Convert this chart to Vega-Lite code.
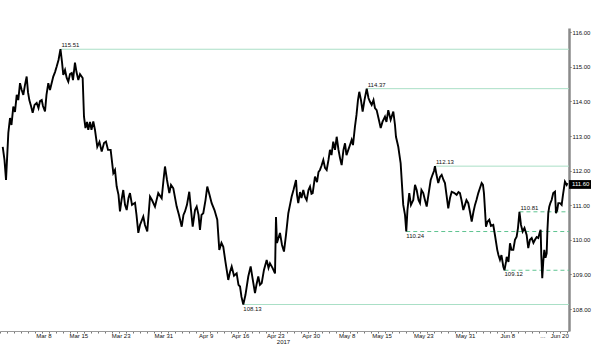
{
  "$schema": "https://vega.github.io/schema/vega-lite/v6.json",
  "width": 569,
  "height": 303,
  "autosize": {"type": "none"},
  "padding": {"left": 0, "top": 28, "right": 31, "bottom": 23},
  "background": "white",
  "config": {
    "view": {"stroke": null},
    "axis": {"labelFont": "Liberation Sans", "labelFontSize": 6, "labelColor": "#111", "titleFont": "Liberation Sans", "grid": false, "labelOverlap": false}
  },
  "datasets": {
    "series": [
      {"day":0.39,"price":112.69},{"day":0.64,"price":112.31},{"day":0.86,"price":111.73},{"day":1.19,"price":113.09},{"day":1.43,"price":113.52},{"day":1.64,"price":113.32},{"day":1.9,"price":113.85},{"day":2.14,"price":113.7},{"day":2.39,"price":114.19},{"day":2.61,"price":114.04},{"day":2.86,"price":114.53},{"day":3.1,"price":114.33},{"day":3.33,"price":114.19},{"day":3.57,"price":114.48},{"day":3.81,"price":114.72},{"day":4.0,"price":114.27},{"day":4.19,"price":114.04},{"day":4.43,"price":113.87},{"day":4.67,"price":113.67},{"day":4.93,"price":113.9},{"day":5.24,"price":113.96},{"day":5.5,"price":113.81},{"day":5.71,"price":114.01},{"day":5.96,"price":114.04},{"day":6.14,"price":113.87},{"day":6.43,"price":113.71},{"day":6.64,"price":114.19},{"day":6.9,"price":114.53},{"day":7.14,"price":114.33},{"day":7.61,"price":114.72},{"day":7.86,"price":114.85},{"day":8.1,"price":115.01},{"day":8.36,"price":115.2},{"day":8.64,"price":115.51},{"day":8.86,"price":115.14},{"day":9.04,"price":114.77},{"day":9.29,"price":114.91},{"day":9.53,"price":114.68},{"day":9.76,"price":114.57},{"day":10.0,"price":114.79},{"day":10.24,"price":114.82},{"day":10.43,"price":114.62},{"day":10.71,"price":115.12},{"day":10.93,"price":114.85},{"day":11.19,"price":114.62},{"day":11.43,"price":114.79},{"day":11.81,"price":114.68},{"day":12.0,"price":113.56},{"day":12.21,"price":113.23},{"day":12.43,"price":113.41},{"day":12.61,"price":113.18},{"day":12.86,"price":113.41},{"day":13.07,"price":113.18},{"day":13.33,"price":113.42},{"day":13.57,"price":113.18},{"day":13.9,"price":112.69},{"day":14.21,"price":112.83},{"day":14.53,"price":112.55},{"day":14.86,"price":112.8},{"day":15.14,"price":112.84},{"day":15.43,"price":112.6},{"day":15.81,"price":112.6},{"day":16.19,"price":111.93},{"day":16.43,"price":112.02},{"day":16.67,"price":111.54},{"day":16.93,"price":111.3},{"day":17.14,"price":110.82},{"day":17.36,"price":111.15},{"day":17.61,"price":111.44},{"day":17.86,"price":111.01},{"day":18.1,"price":110.86},{"day":18.36,"price":111.21},{"day":18.57,"price":111.35},{"day":18.86,"price":111.01},{"day":19.29,"price":111.07},{"day":19.5,"price":110.72},{"day":19.76,"price":110.2},{"day":20.0,"price":110.43},{"day":20.47,"price":110.67},{"day":20.71,"price":110.43},{"day":21.04,"price":110.24},{"day":21.43,"price":111.25},{"day":21.71,"price":111.15},{"day":22.14,"price":110.96},{"day":22.61,"price":111.35},{"day":23.1,"price":111.2},{"day":23.36,"price":111.73},{"day":23.57,"price":112.12},{"day":23.86,"price":111.73},{"day":24.19,"price":111.35},{"day":24.43,"price":111.59},{"day":24.76,"price":111.49},{"day":25.24,"price":110.96},{"day":25.57,"price":110.72},{"day":25.96,"price":110.38},{"day":26.21,"price":110.72},{"day":26.43,"price":110.82},{"day":26.71,"price":111.01},{"day":27.04,"price":111.39},{"day":27.29,"price":110.86},{"day":27.53,"price":110.38},{"day":27.86,"price":110.86},{"day":28.1,"price":110.96},{"day":28.36,"price":110.72},{"day":28.57,"price":110.29},{"day":28.79,"price":110.72},{"day":29.04,"price":110.77},{"day":29.36,"price":111.15},{"day":29.61,"price":111.54},{"day":29.93,"price":111.3},{"day":30.24,"price":111.06},{"day":30.64,"price":110.86},{"day":31.04,"price":110.58},{"day":31.33,"price":109.71},{"day":31.64,"price":109.91},{"day":31.9,"price":109.8},{"day":32.21,"price":109.36},{"day":32.61,"price":108.84},{"day":32.86,"price":109.07},{"day":33.1,"price":109.23},{"day":33.43,"price":108.96},{"day":33.81,"price":109.03},{"day":34.07,"price":108.7},{"day":34.29,"price":108.65},{"day":34.5,"price":108.35},{"day":34.76,"price":108.13},{"day":35.07,"price":108.41},{"day":35.47,"price":108.94},{"day":35.81,"price":109.23},{"day":36.07,"price":108.9},{"day":36.43,"price":108.46},{"day":36.64,"price":108.7},{"day":36.9,"price":108.94},{"day":37.14,"price":108.7},{"day":37.39,"price":108.75},{"day":37.71,"price":109.13},{"day":38.1,"price":109.42},{"day":38.36,"price":109.19},{"day":38.57,"price":109.32},{"day":38.93,"price":109.19},{"day":39.29,"price":109.03},{"day":39.43,"price":110.66},{"day":39.57,"price":109.91},{"day":40.0,"price":110.2},{"day":40.29,"price":109.85},{"day":40.57,"price":109.66},{"day":40.86,"price":110.14},{"day":41.19,"price":110.77},{"day":41.43,"price":111.01},{"day":41.67,"price":111.25},{"day":41.93,"price":111.44},{"day":42.29,"price":111.73},{"day":42.43,"price":111.3},{"day":42.61,"price":111.06},{"day":42.86,"price":111.38},{"day":43.07,"price":111.21},{"day":43.33,"price":111.44},{"day":43.57,"price":111.24},{"day":43.81,"price":111.15},{"day":44.07,"price":111.44},{"day":44.29,"price":111.54},{"day":44.5,"price":111.33},{"day":44.67,"price":111.35},{"day":45.0,"price":111.83},{"day":45.29,"price":111.67},{"day":45.5,"price":111.96},{"day":45.71,"price":112.02},{"day":45.93,"price":112.14},{"day":46.19,"price":112.31},{"day":46.43,"price":112.08},{"day":46.67,"price":112.02},{"day":46.93,"price":112.31},{"day":47.14,"price":112.6},{"day":47.36,"price":112.45},{"day":47.61,"price":112.84},{"day":47.86,"price":112.6},{"day":48.1,"price":112.98},{"day":48.36,"price":112.6},{"day":48.57,"price":112.37},{"day":48.81,"price":112.16},{"day":49.07,"price":112.6},{"day":49.29,"price":112.79},{"day":49.5,"price":112.45},{"day":49.76,"price":112.6},{"day":50.0,"price":112.74},{"day":50.24,"price":112.89},{"day":50.43,"price":112.74},{"day":50.71,"price":113.27},{"day":50.93,"price":113.61},{"day":51.14,"price":114.04},{"day":51.33,"price":114.28},{"day":51.57,"price":114.04},{"day":51.81,"price":113.71},{"day":52.07,"price":114.04},{"day":52.39,"price":114.37},{"day":52.64,"price":114.1},{"day":52.86,"price":113.99},{"day":53.1,"price":113.9},{"day":53.36,"price":114.04},{"day":53.57,"price":113.81},{"day":53.81,"price":113.75},{"day":54.07,"price":113.52},{"day":54.39,"price":113.23},{"day":54.64,"price":113.41},{"day":55.0,"price":113.56},{"day":55.21,"price":113.41},{"day":55.47,"price":113.75},{"day":55.81,"price":113.47},{"day":56.19,"price":113.71},{"day":56.43,"price":113.32},{"day":56.57,"price":112.98},{"day":56.9,"price":112.69},{"day":57.07,"price":112.45},{"day":57.24,"price":112.21},{"day":57.43,"price":111.59},{"day":57.61,"price":111.01},{"day":57.86,"price":110.72},{"day":58.04,"price":110.24},{"day":58.21,"price":110.86},{"day":58.47,"price":111.35},{"day":58.71,"price":111.01},{"day":59.04,"price":111.15},{"day":59.29,"price":111.59},{"day":59.53,"price":111.44},{"day":59.79,"price":111.15},{"day":60.0,"price":111.06},{"day":60.21,"price":111.44},{"day":60.47,"price":111.35},{"day":60.71,"price":111.15},{"day":60.96,"price":110.96},{"day":61.21,"price":111.3},{"day":61.53,"price":111.73},{"day":61.79,"price":111.88},{"day":62.0,"price":111.99},{"day":62.14,"price":112.13},{"day":62.36,"price":111.88},{"day":62.61,"price":111.64},{"day":62.86,"price":111.82},{"day":63.1,"price":111.88},{"day":63.36,"price":111.73},{"day":63.57,"price":111.64},{"day":63.79,"price":111.3},{"day":64.04,"price":110.91},{"day":64.29,"price":111.21},{"day":64.53,"price":111.39},{"day":64.86,"price":111.36},{"day":65.24,"price":111.3},{"day":65.5,"price":111.38},{"day":65.71,"price":111.35},{"day":65.93,"price":111.15},{"day":66.19,"price":110.86},{"day":66.43,"price":111.01},{"day":66.64,"price":111.15},{"day":66.9,"price":111.06},{"day":67.14,"price":110.81},{"day":67.39,"price":110.53},{"day":67.64,"price":110.81},{"day":67.86,"price":111.01},{"day":68.07,"price":111.15},{"day":68.33,"price":111.35},{"day":68.57,"price":111.5},{"day":68.81,"price":111.64},{"day":69.0,"price":111.59},{"day":69.14,"price":111.35},{"day":69.29,"price":110.86},{"day":69.43,"price":110.38},{"day":69.64,"price":110.52},{"day":69.9,"price":110.58},{"day":70.14,"price":110.4},{"day":70.47,"price":110.43},{"day":70.71,"price":110.14},{"day":71.04,"price":109.71},{"day":71.21,"price":109.56},{"day":71.43,"price":109.42},{"day":71.64,"price":109.56},{"day":71.9,"price":109.23},{"day":72.07,"price":109.12},{"day":72.29,"price":109.36},{"day":72.39,"price":109.51},{"day":72.64,"price":109.36},{"day":72.86,"price":109.9},{"day":73.07,"price":109.71},{"day":73.33,"price":109.71},{"day":73.57,"price":110.0},{"day":73.81,"price":110.09},{"day":74.0,"price":110.34},{"day":74.21,"price":110.81},{"day":74.43,"price":110.43},{"day":74.67,"price":110.24},{"day":74.93,"price":110.34},{"day":75.24,"price":110.14},{"day":75.36,"price":109.94},{"day":75.47,"price":109.76},{"day":75.71,"price":110.0},{"day":75.96,"price":110.05},{"day":76.21,"price":109.91},{"day":76.43,"price":110.0},{"day":76.67,"price":110.08},{"day":76.9,"price":110.05},{"day":77.14,"price":110.23},{"day":77.24,"price":110.29},{"day":77.33,"price":109.56},{"day":77.47,"price":108.89},{"day":77.61,"price":109.36},{"day":77.76,"price":109.71},{"day":77.93,"price":109.48},{"day":78.1,"price":109.61},{"day":78.21,"price":110.29},{"day":78.33,"price":110.77},{"day":78.47,"price":110.96},{"day":78.64,"price":111.07},{"day":78.81,"price":111.15},{"day":79.04,"price":111.35},{"day":79.29,"price":111.39},{"day":79.43,"price":110.77},{"day":79.61,"price":110.86},{"day":79.76,"price":111.06},{"day":80.0,"price":111.06},{"day":80.24,"price":111.01},{"day":80.43,"price":111.3},{"day":80.71,"price":111.68},{"day":80.96,"price":111.59},{"day":81.07,"price":111.64}
    ],
    "levels": [
      {"day": 8.64, "price": 115.51, "kind": "solid", "side": "above"},
      {"day": 52.39, "price": 114.37, "kind": "solid", "side": "above"},
      {"day": 62.14, "price": 112.13, "kind": "solid", "side": "above"},
      {"day": 74.21, "price": 110.81, "kind": "dashed", "side": "above"},
      {"day": 58.04, "price": 110.24, "kind": "dashed", "side": "below"},
      {"day": 72.07, "price": 109.12, "kind": "dashed", "side": "below"},
      {"day": 34.76, "price": 108.13, "kind": "solid", "side": "below"}
    ],
    "last": [
      {"day": 81.29, "price": 111.6, "label": "111.60"}
    ]
  },
  "encoding": {
    "y": {"field": "price", "type": "quantitative", "scale": {"domain": [107.364, 116.124], "nice": false, "zero": false},
      "axis": {"orient": "right", "values": [108,109,110,111,112,113,114,115,116], "format": ".2f", "labelOverlap": false, "labelSeparation": 0, "labelBound": false, "domainColor": "#8a8a8a", "domainWidth": 2.5, "tickColor": "#555", "tickSize": 2, "labelPadding": 1, "title": null}}
  },
  "layer": [
    {
      "data": {"name": "levels"},
      "transform": [{"filter": "datum.kind == 'solid'"}],
      "mark": {"type": "rule", "strokeWidth": 1, "color": "#aadfc6"},
      "encoding": {
        "x": {"field": "day", "type": "quantitative", "scale": {"domain": [0, 81.29], "nice": false, "zero": false},
          "axis": {"orient": "bottom", "values": [0,1,2,3,4,5,6,7,8,9,10,11,12,13,14,15,16,17,18,19,20,21,22,23,24,25,26,27,28,29,30,31,32,33,34,35,36,37,38,39,40,41,42,43,44,45,46,47,48,49,50,51,52,53,54,55,56,57,58,59,60,61,62,63,64,65,66,67,68,69,70,71,72,73,74,75,76,77,78,79,80,81], "labels": false, "domain": false, "ticks": true, "tickSize": 2, "tickColor": "#777", "title": null}},
        "x2": {"datum": 81.29}
      }
    },
    {
      "data": {"name": "levels"},
      "transform": [{"filter": "datum.kind == 'dashed'"}],
      "mark": {"type": "rule", "strokeWidth": 1, "color": "#5fc491", "strokeDash": [4, 3]},
      "encoding": {
        "x": {"field": "day", "type": "quantitative", "axis": null},
        "x2": {"datum": 81.29}
      }
    },
    {
      "data": {"name": "series"},
      "mark": {"type": "line", "color": "#000", "strokeWidth": 1.9, "strokeJoin": "miter"},
      "encoding": {
        "x": {"field": "day", "type": "quantitative",
          "axis": {"orient": "bottom", "values": [6.19, 11.19, 17.24, 23.33, 29.38, 34.29, 39.33, 44.38, 49.52, 54.52, 60.48, 66.43, 72.48, 77.48, 79.9],
            "labelExpr": "['Mar 8','Mar 15','Mar 23','Mar 31','Apr 9','Apr 16','Apr 23','Apr 30','May 8','May 15','May 23','May 31','Jun 8','...','Jun 20'][indexof([6.19, 11.19, 17.24, 23.33, 29.38, 34.29, 39.33, 44.38, 49.52, 54.52, 60.48, 66.43, 72.48, 77.48, 79.9], datum.value)]",
            "labelOverlap": false, "domainColor": "#999", "domainWidth": 1, "ticks": false, "labelPadding": 1, "labelFlush": false,
            "title": "2017", "titleX": 283, "titleY": 10, "titleFontSize": 6, "titleFontWeight": "normal", "titleColor": "#111", "titleBaseline": "middle", "titleAlign": "center"}}
      }
    },
    {
      "data": {"name": "levels"},
      "transform": [{"filter": "datum.side == 'above'"}],
      "mark": {"type": "text", "align": "left", "baseline": "alphabetic", "dy": -2, "dx": 1, "fontSize": 6, "font": "Liberation Sans", "color": "#111"},
      "encoding": {
        "x": {"field": "day", "type": "quantitative", "axis": null},
        "text": {"field": "price", "type": "quantitative", "format": ".2f"}
      }
    },
    {
      "data": {"name": "levels"},
      "transform": [{"filter": "datum.side == 'below'"}],
      "mark": {"type": "text", "align": "left", "baseline": "top", "dy": 1, "dx": 0, "fontSize": 6, "font": "Liberation Sans", "color": "#111"},
      "encoding": {
        "x": {"field": "day", "type": "quantitative", "axis": null},
        "text": {"field": "price", "type": "quantitative", "format": ".2f"}
      }
    },
    {
      "data": {"name": "last"},
      "mark": {"type": "point", "filled": true, "opacity": 1, "color": "#000", "shape": "M0,-0.4H2V0.4H0Z", "size": 484, "clip": false},
      "encoding": {
        "x": {"field": "day", "type": "quantitative", "axis": null}
      }
    },
    {
      "data": {"name": "last"},
      "mark": {"type": "text", "align": "left", "baseline": "middle", "dx": 3, "fontSize": 6, "font": "Liberation Sans", "color": "#fff", "clip": false},
      "encoding": {
        "x": {"field": "day", "type": "quantitative", "axis": null},
        "text": {"field": "label", "type": "nominal"}
      }
    }
  ],
  "resolve": {"axis": {"x": "independent"}}
}
